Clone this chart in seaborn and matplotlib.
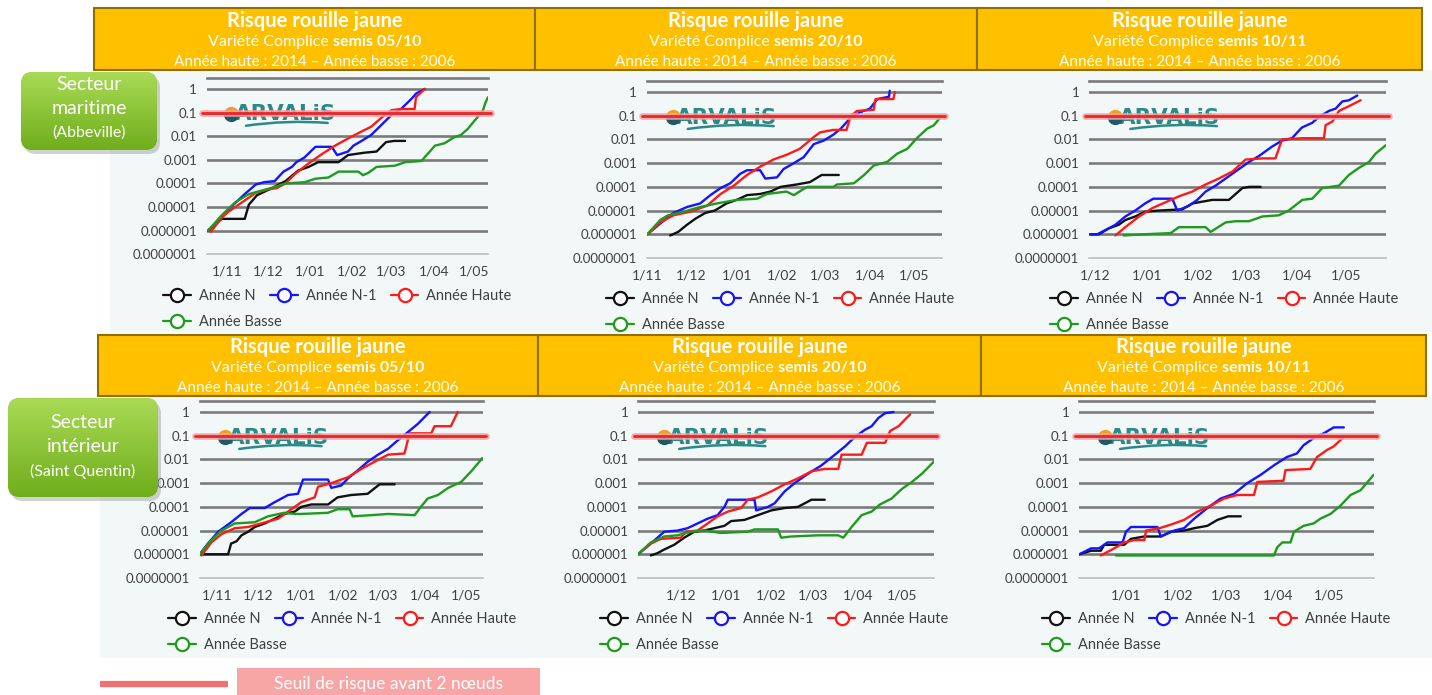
import matplotlib
matplotlib.use("Agg")
import matplotlib.pyplot as plt
import seaborn as sns
from matplotlib.lines import Line2D
from matplotlib.patches import Rectangle, FancyBboxPatch, FancyArrowPatch
from matplotlib.colors import LinearSegmentedColormap
import numpy as np

sns.set_style("white")
plt.rcParams["font.family"] = ["Lato", "DejaVu Sans"]

W, H = 1432, 695

# x = days since 1 October, y = log10 of the rust risk index
month_days = [31, 61, 92, 123, 152, 183, 213]
month_labels = ["1/11", "1/12", "1/01", "1/02", "1/03", "1/04", "1/05"]
risk_ticks = [1e-7, 1e-6, 1e-5, 1e-4, 1e-3, 1e-2, 1e-1, 1]
risk_labels = ["0.0000001", "0.000001", "0.00001", "0.0001", "0.001", "0.01", "0.1", "1"]
sowing_dates = ["05/10", "20/10", "10/11"]
series_names = ["Année N", "Année N-1", "Année Haute", "Année Basse"]
series_colors = ["#111111", "#1414ff", "#ff1a1a", "#1f9a1f"]
threshold = 0.1

# --- Secteur maritime, semis 05/10
m05_n_day = [17, 27, 44, 47, 53, 64, 74, 83.5, 91, 98, 113, 120, 132, 141, 148, 154, 162]
m05_n_log = [-6, -5.5, -5.5, -4.9, -4.5, -4.2, -3.9, -3.45, -3.3, -3.1, -3.1, -2.8, -2.7, -2.65, -2.25, -2.2, -2.2]
m05_n1_day = [17, 26, 32, 44, 52, 58, 66, 72.5, 78.7, 82, 88, 96, 108, 112, 120, 124, 130, 137, 145, 152, 159, 167, 170, 176.5]
m05_n1_log = [-6, -5.5, -5.1, -4.45, -4.05, -3.95, -3.9, -3.5, -3.3, -3.1, -2.9, -2.45, -2.45, -2.8, -2.65, -2.4, -2.2, -1.95, -1.5, -1.1, -0.85, -0.4, -0.2, 0.0]
m05_h_day = [19, 27, 32, 42, 52, 61.5, 67.5, 74, 81, 91, 101, 110.5, 120, 130, 137, 145, 152, 159, 169, 170, 176.5]
m05_h_log = [-6.05, -5.45, -5.2, -4.8, -4.4, -4.25, -4.2, -4.0, -3.6, -3.15, -2.75, -2.4, -2.1, -1.8, -1.6, -1.2, -0.9, -0.85, -0.85, -0.35, 0.0]
m05_b_day = [17, 27, 37, 47, 56.7, 66, 74, 88, 96, 105.5, 113, 127.6, 131, 135, 141, 154.5, 162, 174, 184, 191, 198, 203, 208, 213, 216, 219, 221, 223]
m05_b_log = [-6, -5.35, -4.8, -4.45, -4.3, -4.15, -4.0, -3.95, -3.8, -3.75, -3.5, -3.5, -3.65, -3.55, -3.3, -3.25, -3.1, -3.05, -2.4, -2.3, -2.05, -1.95, -1.7, -1.35, -1.15, -0.95, -0.6, -0.35]

# --- Secteur maritime, semis 20/10
m20_n_day = [46.5, 52, 58, 63.6, 70.5, 77, 85, 92, 99, 108, 115, 122, 133, 142, 150, 161.7]
m20_n_log = [-6.05, -5.9, -5.6, -5.35, -5.1, -5.0, -4.7, -4.55, -4.35, -4.3, -4.2, -4.0, -3.9, -3.8, -3.5, -3.5]
m20_n1_day = [31, 39.7, 48.8, 58, 67, 74, 81, 87.6, 94.4, 99, 108, 111.5, 119.5, 124, 131, 137.7, 144.6, 151.4, 158, 163, 169.6, 176.5, 183, 188, 196, 196.5]
m20_n1_log = [-6, -5.55, -5.1, -4.85, -4.7, -4.35, -4.05, -3.85, -3.45, -3.3, -3.3, -3.65, -3.6, -3.25, -3.0, -2.75, -2.2, -2.05, -1.8, -1.55, -1.1, -0.85, -0.7, -0.3, -0.2, 0.05]
m20_h_day = [31, 39.7, 48.8, 60, 71.6, 81, 90, 99, 108, 117, 126, 135, 144.6, 149, 158, 167, 169.6, 174, 185.6, 186.8, 199, 200]
m20_h_log = [-6, -5.5, -5.2, -5.05, -4.8, -4.3, -3.95, -3.5, -3.15, -2.85, -2.65, -2.4, -1.9, -1.7, -1.6, -1.6, -1.05, -0.8, -0.75, -0.3, -0.3, 0.0]
m20_b_day = [31, 39.7, 45, 55.6, 67, 78.4, 92, 106, 112.6, 126, 131, 140, 158, 160.5, 172, 179, 185.6, 194.7, 201.6, 208.5, 215, 222, 226.7, 232]
m20_b_log = [-6, -5.4, -5.2, -5.05, -4.85, -4.7, -4.55, -4.5, -4.3, -4.2, -4.35, -4.0, -4.0, -3.9, -3.85, -3.5, -3.1, -2.95, -2.6, -2.4, -1.95, -1.55, -1.4, -1.0]

# --- Secteur maritime, semis 10/11
m11_n_day = [58, 63, 69, 75, 79, 85, 91, 99, 113.5, 119.6, 131.7, 141.8, 150, 154, 161]
m11_n_log = [-6, -6, -5.75, -5.6, -5.4, -5.25, -5.05, -5.0, -4.95, -4.7, -4.55, -4.55, -4.05, -4.0, -4.0]
m11_n1_day = [57.5, 62, 69, 73, 79, 85, 91, 96, 107.5, 110.5, 117.5, 122.6, 127.7, 133.7, 139.8, 145.8, 154, 160, 168, 174, 180, 186, 192.3, 196.4, 202.4, 206.5, 210.5, 214.5, 219.6]
m11_n1_log = [-6, -6, -5.75, -5.6, -5.25, -5.0, -4.7, -4.5, -4.5, -5.0, -4.8, -4.55, -4.2, -3.95, -3.65, -3.35, -2.95, -2.7, -2.3, -2.05, -1.95, -1.5, -1.3, -1.05, -0.8, -0.7, -0.4, -0.35, -0.15]
m11_h_day = [73, 79, 87.3, 95.3, 103.4, 111.5, 119.6, 127.7, 135.7, 144, 151.9, 162, 170, 174, 186, 199.4, 200.4, 204.4, 208.5, 214.5, 221.6]
m11_h_log = [-6.05, -5.7, -5.25, -4.9, -4.65, -4.4, -4.2, -3.9, -3.65, -3.35, -2.85, -2.8, -2.8, -2.0, -1.95, -1.95, -1.4, -1.25, -0.8, -0.6, -0.35]
m11_b_day = [78, 90.3, 106.5, 111.5, 127.7, 130.7, 139.8, 145.8, 154, 162, 172, 178, 186.3, 192.3, 198.4, 208.5, 214.5, 220.6, 226.7, 230.7, 236.8]
m11_b_log = [-6.05, -6.0, -5.95, -5.7, -5.7, -5.9, -5.5, -5.45, -5.45, -5.25, -5.2, -5.0, -4.55, -4.5, -4.05, -3.95, -3.5, -3.2, -2.95, -2.6, -2.25]

# --- Secteur intérieur, semis 05/10
i05_n_day = [18, 38.8, 41, 45, 48.6, 53.4, 58.3, 65.6, 73, 80, 87.6, 92.5, 99.8, 112, 119, 129, 141, 149.8, 160.8]
i05_n_log = [-6, -6, -5.55, -5.45, -5.2, -5.05, -4.85, -4.7, -4.5, -4.3, -4.2, -4.0, -3.9, -3.9, -3.6, -3.5, -3.45, -3.05, -3.05]
i05_n1_day = [18, 24, 31.5, 41, 48.6, 54.7, 65.6, 73, 82.7, 90, 93.7, 112, 114.4, 121.7, 126.6, 134, 141, 148.6, 156, 163, 170.5, 177.8, 186.4]
i05_n1_log = [-6, -5.55, -5.05, -4.65, -4.3, -4.05, -4.05, -3.8, -3.5, -3.45, -2.85, -2.85, -3.2, -3.1, -2.8, -2.45, -2.1, -1.8, -1.55, -1.2, -0.85, -0.5, 0.0]
i05_h_day = [19.3, 26.6, 34, 43.7, 53.4, 63, 75.4, 82.7, 92.5, 102.2, 104.7, 114.4, 126.6, 136.4, 146, 156, 168, 171.7, 187.6, 190, 202, 207]
i05_h_log = [-6.05, -5.5, -5.15, -4.9, -4.85, -4.7, -4.5, -4.2, -3.8, -3.6, -3.15, -3.0, -2.75, -2.4, -2.1, -1.8, -1.75, -0.9, -0.9, -0.6, -0.6, 0.0]
i05_b_day = [18, 26.6, 34, 43.7, 58.3, 68, 80, 87.6, 92.5, 112, 119, 127.8, 130, 143.7, 156, 175.4, 180, 185, 192.5, 200, 209.5, 216.9, 225]
i05_b_log = [-6, -5.4, -5.0, -4.7, -4.65, -4.4, -4.25, -4.3, -4.3, -4.25, -4.1, -4.1, -4.4, -4.35, -4.3, -4.35, -4.0, -3.65, -3.5, -3.2, -2.95, -2.5, -1.95]

# --- Secteur intérieur, semis 20/10
i20_n_day = [40.3, 45, 49.5, 56.4, 63.3, 70.2, 77, 91, 95.6, 104.8, 114, 123.2, 132.4, 141.6, 150.9, 160]
i20_n_log = [-6.05, -5.95, -5.8, -5.6, -5.3, -5.05, -5.0, -4.8, -4.6, -4.55, -4.35, -4.15, -4.05, -4.0, -3.7, -3.7]
i20_n1_day = [31.5, 40.3, 49.5, 58.7, 65.6, 72.5, 79.4, 86.3, 91, 93.3, 111.7, 112.8, 121, 125.5, 132.4, 139.3, 148.6, 157.8, 167, 174, 180.8, 187.7, 192.3, 197, 201.6, 207.3]
i20_n1_log = [-6, -5.55, -5.05, -5.0, -4.9, -4.7, -4.5, -4.35, -4.0, -3.7, -3.7, -4.15, -4.0, -3.85, -3.35, -3.0, -2.6, -2.25, -1.8, -1.45, -1.05, -0.75, -0.6, -0.25, -0.05, 0.0]
i20_h_day = [31.5, 40.3, 47.2, 61, 64.5, 72.5, 79.4, 86.3, 93.3, 102.5, 107, 114, 123.2, 132.4, 141.6, 150.9, 160, 169.3, 171.6, 185.4, 189, 201.6, 205, 210.8, 218.8]
i20_h_log = [-6, -5.55, -5.35, -5.3, -5.05, -5.0, -4.7, -4.4, -4.2, -4.05, -3.7, -3.6, -3.35, -3.05, -2.8, -2.5, -2.4, -2.4, -1.8, -1.8, -1.3, -1.3, -0.8, -0.6, -0.1]
i20_b_day = [31.5, 40.3, 49.5, 58.7, 68, 77, 88.6, 107, 111.7, 127.8, 130, 137, 155.5, 169.3, 172.8, 178.5, 185.4, 192.3, 198, 206, 213, 220, 227, 235]
i20_b_log = [-6, -5.5, -5.25, -5.2, -5.05, -5.0, -5.1, -5.05, -4.95, -4.95, -5.3, -5.25, -5.2, -5.2, -5.3, -4.85, -4.35, -4.2, -3.9, -3.65, -3.25, -2.95, -2.6, -2.1]

# --- Secteur intérieur, semis 10/11
i11_n_day = [64.2, 71.2, 77, 79, 91, 95, 103, 112.8, 118.8, 126.7, 132.7, 140.6, 146.6, 153, 160.5]
i11_n_log = [-6, -5.85, -5.85, -5.6, -5.6, -5.35, -5.25, -5.25, -5.05, -5.0, -4.9, -4.8, -4.55, -4.4, -4.4]
i11_n1_day = [64.2, 71.2, 76, 81, 90, 92, 95, 110.8, 112.8, 120.8, 126.7, 132.7, 140.6, 148.5, 156.5, 164.4, 172.4, 180.3, 188, 194, 198, 204, 210, 216, 222]
i11_n1_log = [-6, -5.75, -5.75, -5.5, -5.5, -5.05, -4.85, -4.85, -5.25, -5.0, -4.9, -4.5, -4.05, -3.65, -3.45, -3.0, -2.65, -2.25, -1.9, -1.75, -1.4, -1.1, -0.9, -0.65, -0.65]
i11_h_day = [77, 85, 91, 97, 103, 104, 112, 118.8, 126.7, 134.7, 142.6, 150.5, 158.5, 168.4, 170.4, 186, 187.2, 202, 206, 212, 216, 222]
i11_h_log = [-6.05, -5.75, -5.5, -5.4, -5.4, -5.0, -4.9, -4.75, -4.55, -4.2, -3.95, -3.65, -3.5, -3.5, -2.95, -2.9, -2.45, -2.4, -1.9, -1.6, -1.45, -1.05]
i11_b_day = [86, 180.3, 182.3, 185.3, 190.2, 192.2, 198, 204, 208, 214, 220, 226, 232, 239.8]
i11_b_log = [-6.05, -6.05, -5.7, -5.5, -5.5, -5.05, -4.8, -4.7, -4.5, -4.3, -3.95, -3.5, -3.3, -2.65]

panel_series = {
    "m05": [(m05_n_day, m05_n_log), (m05_n1_day, m05_n1_log), (m05_h_day, m05_h_log), (m05_b_day, m05_b_log)],
    "m20": [(m20_n_day, m20_n_log), (m20_n1_day, m20_n1_log), (m20_h_day, m20_h_log), (m20_b_day, m20_b_log)],
    "m11": [(m11_n_day, m11_n_log), (m11_n1_day, m11_n1_log), (m11_h_day, m11_h_log), (m11_b_day, m11_b_log)],
    "i05": [(i05_n_day, i05_n_log), (i05_n1_day, i05_n1_log), (i05_h_day, i05_h_log), (i05_b_day, i05_b_log)],
    "i20": [(i20_n_day, i20_n_log), (i20_n1_day, i20_n1_log), (i20_h_day, i20_h_log), (i20_b_day, i20_b_log)],
    "i11": [(i11_n_day, i11_n_log), (i11_n1_day, i11_n1_log), (i11_h_day, i11_h_log), (i11_b_day, i11_b_log)],
}
panel_xlim = {"m05": (16, 223), "m20": (30.5, 232), "m11": (57, 237),
              "i05": (18, 225.5), "i20": (31.5, 235), "i11": (64, 240)}

# layout in pixels (x0, y0, x1, y1), origin top-left
panel_box = {"m05": (206.7, 78.3, 488, 254.3), "m20": (646.7, 81.3, 941.7, 258), "m11": (1089, 81.3, 1386, 258),
             "i05": (199.7, 401.3, 483, 578), "i20": (638, 401.3, 933.7, 578), "i11": (1079, 401.3, 1374, 578)}
legend_anchor = {"m05": (163, 296), "m20": (606, 299), "m11": (1050, 299),
                 "i05": (168, 619), "i20": (600, 619), "i11": (1042, 619)}

TXT = "#404040"
GRID = "#7a7a7a"
TEAL = "#2b8a88"

fig = plt.figure(figsize=(W / 100, H / 100), dpi=100)

back = fig.add_axes([0, 0, 1, 1], zorder=0)
front = fig.add_axes([0, 0, 1, 1], zorder=5)
for d in (back, front):
    d.set_xlim(0, W)
    d.set_ylim(H, 0)
    d.axis("off")
    d.patch.set_alpha(0)

# light panels behind the charts
back.add_patch(Rectangle((110, 70), W - 110, 262, color="#f2f7f7", lw=0))
back.add_patch(Rectangle((100, 396), W - 100, 262, color="#f2f7f7", lw=0))

ymax = 10 ** 0.45
for key, (x0, y0, x1, y1) in panel_box.items():
    ax = fig.add_axes([x0 / W, 1 - y1 / H, (x1 - x0) / W, (y1 - y0) / H], zorder=2)
    ax.patch.set_alpha(0)
    for (days, logs), color in zip(panel_series[key], series_colors):
        sns.lineplot(x=days, y=[10 ** v for v in logs], ax=ax, color=color, lw=1.7,
                     estimator=None, sort=False, legend=False, zorder=3)
    ax.set_yscale("log")
    ax.set_ylim(1e-7, ymax)
    ax.set_xlim(*panel_xlim[key])
    ax.set_xlabel("")
    ax.set_ylabel("")
    ax.set_yticks(risk_ticks)
    ax.set_yticklabels(risk_labels)
    ax.yaxis.set_minor_locator(matplotlib.ticker.NullLocator())
    lo, hi = panel_xlim[key]
    shown = [(d, l) for d, l in zip(month_days, month_labels) if lo <= d <= hi]
    ax.set_xticks([d for d, _ in shown])
    ax.set_xticklabels([l for _, l in shown])
    ax.tick_params(axis="y", length=0, pad=7, labelsize=9.5, labelcolor=TXT)
    ax.tick_params(axis="x", length=4, width=1, color="#b0b0b0", pad=4, labelsize=10, labelcolor=TXT)
    for t in risk_ticks[1:]:
        ax.axhline(t, color=GRID, lw=1.9, zorder=1)
    for s in ("left", "right"):
        ax.spines[s].set_visible(False)
    ax.spines["top"].set_color(GRID)
    ax.spines["top"].set_linewidth(1.9)
    ax.spines["bottom"].set_color("#bdbdbd")
    ax.spines["bottom"].set_linewidth(1.2)

    # ARVALIS logo
    ax.text(0.1, 0.795, "ARVALiS", transform=ax.transAxes, fontsize=15.5, fontweight="bold",
            family="DejaVu Sans", color=TEAL, va="center", ha="left", zorder=2)
    ax.plot([0.088], [0.80], transform=ax.transAxes, marker="o", ms=11, fillstyle="top",
            mfc="#f0a020", mfcalt="#1d5a66", mec="none", clip_on=False, zorder=2)
    ax.add_patch(FancyArrowPatch((0.13, 0.728), (0.44, 0.745), transform=ax.transAxes,
                                 arrowstyle="-", connectionstyle="arc3,rad=-0.06",
                                 color=TEAL, lw=1.8, zorder=2))

    # risk threshold
    ax.axhline(threshold, xmin=-0.015, xmax=1.01, color="#f5a0a0", lw=4.8, alpha=0.85,
               clip_on=False, zorder=6)
    ax.axhline(threshold, xmin=-0.015, xmax=1.01, color="#e8262b", lw=2.0,
               clip_on=False, zorder=7)

    # legend below the chart
    handles = [Line2D([], [], color=c, lw=1.6, marker="o", ms=9.5, mfc="white", mew=1.6)
               for c in series_colors]
    lx, ly = legend_anchor[key]
    common = dict(loc="center left", bbox_transform=front.transData, frameon=False,
                  borderpad=0, borderaxespad=0, handlelength=1.9, handletextpad=0.55,
                  columnspacing=1.0, fontsize=10.5, labelcolor=TXT)
    fig.legend(handles[:3], series_names[:3], ncol=3, bbox_to_anchor=(lx, ly), **common)
    fig.legend(handles[3:], series_names[3:], ncol=1, bbox_to_anchor=(lx, ly + 26), **common)

# orange headers
split_lines = []
for xs, (ytop, ybot), ylines in (([94, 535, 977, 1422], (8, 70), (21, 42, 62)),
                                 ([98, 538, 981, 1426], (335, 396), (347, 368, 388))):
    for i, semis in enumerate(sowing_dates):
        xa, xb = xs[i], xs[i + 1]
        front.add_patch(Rectangle((xa, ytop), xb - xa, ybot - ytop, facecolor="#ffc000",
                                  edgecolor="#8f6f00", lw=1.5))
        xc = (xa + xb) / 2
        front.text(xc, ylines[0], "Risque rouille jaune", ha="center", va="center",
                   fontsize=14.5, fontweight="bold", color="white")
        t1 = front.text(xc, ylines[1], "Variété Complice", ha="left", va="center",
                        fontsize=11.5, color="white")
        t2 = front.text(xc, ylines[1], "semis " + semis, ha="left", va="center",
                        fontsize=11.5, fontweight="bold", color="white")
        split_lines.append((t1, t2, xc))
        front.text(xc, ylines[2], "Année haute : 2014 \u2013 Année basse : 2006", ha="center",
                   va="center", fontsize=11, color="white")

# green sector boxes
green = LinearSegmentedColormap.from_list("g", ["#a9da55", "#6fae1c"])
grad = np.linspace(0, 1, 100).reshape(-1, 1)
for (x0, y0, x1, y1), lines in (((21, 72, 157, 150), [("Secteur", 14, 85), ("maritime", 14, 109), ("(Abbeville)", 11.5, 133)]),
                                ((8, 398, 158, 497), [("Secteur", 14, 423), ("intérieur", 14, 447), ("(Saint Quentin)", 11.5, 471)])):
    shadow = FancyBboxPatch((x0 + 3, y0 + 4), x1 - x0, y1 - y0, boxstyle="round,pad=0,rounding_size=12",
                            facecolor="#9a9a9a", edgecolor="none", alpha=0.45)
    front.add_patch(shadow)
    box = FancyBboxPatch((x0, y0), x1 - x0, y1 - y0, boxstyle="round,pad=0,rounding_size=12",
                         facecolor="#8cc63f", edgecolor="none")
    front.add_patch(box)
    im = front.imshow(grad, cmap=green, extent=(x0, x1, y1, y0), aspect="auto", zorder=box.get_zorder() + 0.1)
    im.set_clip_path(box)
    for txt, size, yy in lines:
        front.text((x0 + x1) / 2, yy, txt, ha="center", va="center", fontsize=size, color="white", zorder=4)
front.set_xlim(0, W)
front.set_ylim(H, 0)

# threshold key at the bottom
front.plot([100, 228], [684, 684], color="#f07070", lw=4.5, solid_capstyle="butt")
front.add_patch(Rectangle((237, 668), 303, 30, facecolor="#f8a5a5", edgecolor="none"))
front.text(388, 684, "Seuil de risque avant 2 nœuds", ha="center", va="center", fontsize=12.5, color="white")

fig.canvas.draw()
r = fig.canvas.get_renderer()
for t1, t2, xc in split_lines:
    w1 = t1.get_window_extent(r).width
    w2 = t2.get_window_extent(r).width
    gap = 4
    x0 = xc - (w1 + gap + w2) / 2
    t1.set_x(x0)
    t2.set_x(x0 + w1 + gap)

fig.savefig("out.png", dpi=100)
